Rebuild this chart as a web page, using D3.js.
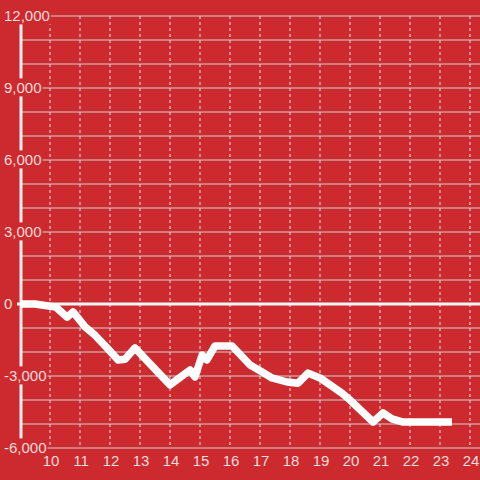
<!DOCTYPE html>
<html><head><meta charset="utf-8">
<script src="https://cdn.jsdelivr.net/npm/d3@7/dist/d3.min.js"></script>
<style>html,body{margin:0;padding:0;background:#cd2a2f;}svg{display:block;}</style>
</head><body>
<script>
const xValues = [9, 9.5, 10.2, 10.57, 10.77, 11.17, 11.5, 11.9, 12.27, 12.5, 12.83, 14.0, 14.67, 14.83, 15.07, 15.23, 15.5, 16.07, 16.67, 17.07, 17.4, 17.9, 18.27, 18.6, 19.0, 19.73, 20.0, 20.77, 21.1, 21.4, 21.77, 23.4];
const yValues = [0, 0, -130, -550, -330, -950, -1300, -1830, -2330, -2300, -1830, -3370, -2750, -3040, -2130, -2330, -1750, -1750, -2540, -2830, -3080, -3250, -3300, -2880, -3080, -3710, -4000, -4920, -4540, -4790, -4920, -4920];
const xTicks = [10, 11, 12, 13, 14, 15, 16, 17, 18, 19, 20, 21, 22, 23, 24];
const yLabelTicks = [-6000, -3000, 0, 3000, 6000, 9000, 12000];
const yGridTicks = d3.range(-6000, 12001, 1000);

const W = 480, H = 480;
const bg = "#cd2a2f";
const svg = d3.select("body").append("svg").attr("width", W).attr("height", H);
svg.append("rect").attr("width", W).attr("height", H).attr("fill", bg);

const x = d3.scaleLinear().domain([9, 24]).range([20, 470]);
const y = d3.scaleLinear().domain([-6000, 12000]).range([448, 16]);

// horizontal grid
svg.append("g").selectAll("line").data(yGridTicks).join("line")
  .attr("x1", 20).attr("x2", W)
  .attr("y1", d => y(d)).attr("y2", d => y(d))
  .attr("stroke", "#cfcfcf").attr("stroke-width", 1.2);

// vertical dashed grid
svg.append("g").selectAll("line").data(xTicks).join("line")
  .attr("x1", d => x(d)).attr("x2", d => x(d))
  .attr("y1", y(12000)).attr("y2", y(-6000))
  .attr("stroke", "#e4e4e4").attr("stroke-width", 1)
  .attr("stroke-dasharray", "3,3");

// y axis line
svg.append("line").attr("x1", 21).attr("x2", 21)
  .attr("y1", y(12000)).attr("y2", y(-6000))
  .attr("stroke", "#efefef").attr("stroke-width", 3);

// zero line
svg.append("line").attr("x1", 17).attr("x2", W)
  .attr("y1", y(0)).attr("y2", y(0))
  .attr("stroke", "#f7f7f7").attr("stroke-width", 3);

const fmt = v => d3.format(",")(v).replace("\u2212", "-");
const font = "'Liberation Sans', Arial, sans-serif";
const lab = svg.append("g").selectAll("g").data(yLabelTicks).join("g");
lab.append("rect").attr("fill", bg);
lab.append("text")
  .attr("x", 4).attr("y", d => y(d))
  .attr("dy", "0.36em")
  .attr("font-family", font).attr("font-size", 15)
  .attr("fill", "#f6dcdc")
  .text(fmt);
lab.each(function() {
  const t = d3.select(this).select("text").node().getBBox();
  d3.select(this).select("rect")
    .attr("x", t.x - 1).attr("y", t.y - 1)
    .attr("width", t.width + 2).attr("height", t.height + 1);
});

// x labels
svg.append("g").selectAll("text").data(xTicks).join("text")
  .attr("x", d => x(d) + 1).attr("y", 466)
  .attr("text-anchor", "middle")
  .attr("font-family", font).attr("font-size", 15)
  .attr("fill", "#f6dcdc")
  .text(d => d);

// data line
const data = xValues.map((v, i) => [v, yValues[i]]);
svg.append("path").datum(data)
  .attr("fill", "none").attr("stroke", "#ffffff")
  .attr("stroke-width", 7.5).attr("stroke-linejoin", "round")
  .attr("d", d3.line().x(d => x(d[0])).y(d => y(d[1])));
</script>
</body></html>
